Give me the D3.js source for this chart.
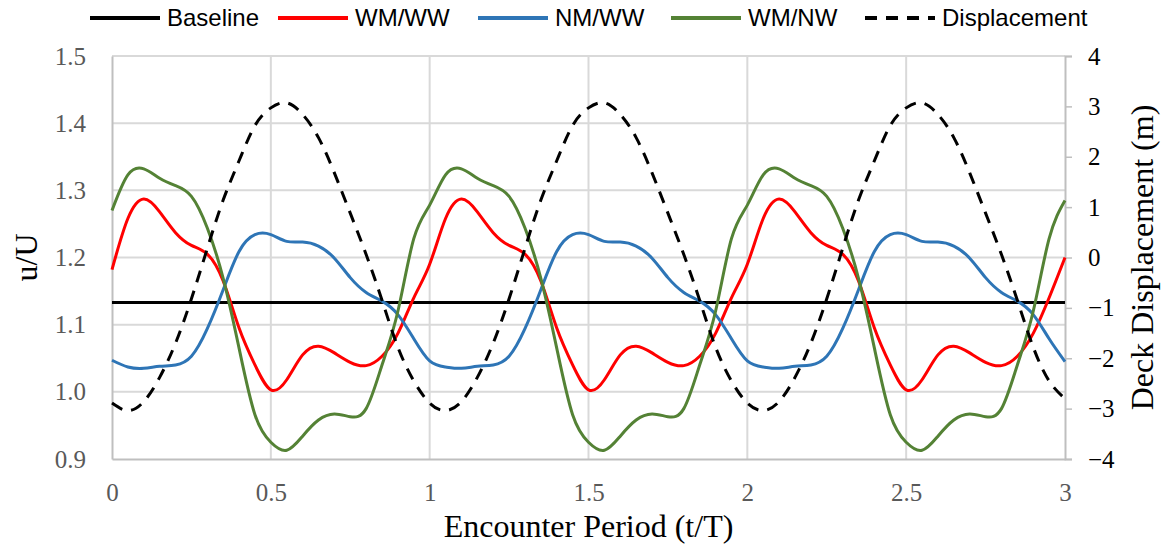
<!DOCTYPE html>
<html>
<head>
<meta charset="utf-8">
<script src="https://cdn.jsdelivr.net/npm/d3@7/dist/d3.min.js"></script>
<style>
  html, body { margin: 0; padding: 0; background: #fff; }
  svg { display: block; }
  .serif { font-family: "Liberation Serif", "Times New Roman", serif; }
  .legend text { font-family: "Liberation Sans Narrow", "Liberation Sans", Arial, sans-serif; }
</style>
</head>
<body>
<svg id="chart" width="1164" height="550"></svg>
<script>
// Encounter period (t/T), sampled every 0.05
const periods = d3.range(0, 61).map(i => +(i * 0.05).toFixed(2));

// Flow speed ratio u/U for each case
const wmww = [
  1.182, 1.258, 1.287, 1.268, 1.237, 1.218, 1.205, 1.165, 1.095, 1.040,
  1.003, 1.018, 1.055, 1.068, 1.058, 1.044, 1.039, 1.053, 1.087, 1.140,
  1.190, 1.258, 1.287, 1.268, 1.237, 1.218, 1.205, 1.165, 1.095, 1.040,
  1.003, 1.018, 1.055, 1.068, 1.058, 1.044, 1.039, 1.053, 1.087, 1.140,
  1.190, 1.258, 1.287, 1.268, 1.237, 1.218, 1.205, 1.165, 1.095, 1.040,
  1.003, 1.018, 1.055, 1.068, 1.058, 1.044, 1.039, 1.053, 1.087, 1.140,
  1.200
];
const nmww = [
  1.047, 1.037, 1.035, 1.038, 1.040, 1.053, 1.094, 1.152, 1.209, 1.234,
  1.234, 1.224, 1.223, 1.217, 1.199, 1.170, 1.148, 1.135, 1.115, 1.079,
  1.046, 1.037, 1.035, 1.038, 1.040, 1.053, 1.094, 1.152, 1.209, 1.234,
  1.234, 1.224, 1.223, 1.217, 1.199, 1.170, 1.148, 1.135, 1.115, 1.079,
  1.046, 1.037, 1.035, 1.038, 1.040, 1.053, 1.094, 1.152, 1.209, 1.234,
  1.234, 1.224, 1.223, 1.217, 1.199, 1.170, 1.148, 1.135, 1.115, 1.079,
  1.045
];
const wmnw = [
  1.270, 1.323, 1.332, 1.318, 1.307, 1.291, 1.244, 1.169, 1.065, 0.966,
  0.925, 0.913, 0.934, 0.958, 0.967, 0.963, 0.975, 1.040, 1.120, 1.228,
  1.278, 1.323, 1.332, 1.318, 1.307, 1.291, 1.244, 1.169, 1.065, 0.966,
  0.925, 0.913, 0.934, 0.958, 0.967, 0.963, 0.975, 1.040, 1.120, 1.228,
  1.278, 1.323, 1.332, 1.318, 1.307, 1.291, 1.244, 1.169, 1.065, 0.966,
  0.925, 0.913, 0.934, 0.958, 0.967, 0.963, 0.975, 1.040, 1.120, 1.228,
  1.285
];
// Constant reference level of u/U
const baselineT = [0, 3];
const baseline = [1.133, 1.133];

// Deck displacement (m), right axis
const displacement = [
  -2.89, -3.04, -2.86, -2.38, -1.70, -0.82, 0.18, 1.14, 1.92, 2.62,
  2.97, 3.07, 2.84, 2.38, 1.68, 0.88, 0.06, -0.85, -1.78, -2.45,
  -2.89, -3.04, -2.86, -2.38, -1.70, -0.82, 0.18, 1.14, 1.92, 2.62,
  2.97, 3.07, 2.84, 2.38, 1.68, 0.88, 0.06, -0.85, -1.78, -2.45,
  -2.89, -3.04, -2.86, -2.38, -1.70, -0.82, 0.18, 1.14, 1.92, 2.62,
  2.97, 3.07, 2.84, 2.38, 1.68, 0.88, 0.06, -0.85, -1.78, -2.45,
  -2.80
];

// Tick labels
const xTicks = [0, 0.5, 1, 1.5, 2, 2.5, 3];
const yTicks = [0.9, 1.0, 1.1, 1.2, 1.3, 1.4, 1.5];
const y2Ticks = [-4, -3, -2, -1, 0, 1, 2, 3, 4];

const svg = d3.select("#chart");
const plotLeft = 112, plotRight = 1065, plotTop = 56, plotBottom = 459;

const x = d3.scaleLinear().domain([0, 3]).range([plotLeft, plotRight]);
const y = d3.scaleLinear().domain([0.9, 1.5]).range([plotBottom, plotTop]);
const y2 = d3.scaleLinear().domain([-4, 4]).range([plotBottom, plotTop]);

// Gridlines
const grid = svg.append("g").attr("stroke", "#d9d9d9").attr("stroke-width", 2);
grid.selectAll(".h").data(yTicks.slice(1)).join("line").attr("class", "h")
  .attr("x1", plotLeft).attr("x2", plotRight)
  .attr("y1", d => y(d)).attr("y2", d => y(d));
grid.selectAll(".v").data(xTicks.slice(1, -1)).join("line").attr("class", "v")
  .attr("y1", plotTop).attr("y2", plotBottom)
  .attr("x1", d => x(d)).attr("x2", d => x(d));

// Axes
const axisColor = "#bfbfbf";
const gx = svg.append("g").attr("transform", `translate(0,${plotBottom})`)
  .call(d3.axisBottom(x).tickValues(xTicks).tickSize(0).tickPadding(24).tickFormat(d3.format("")));
const gy = svg.append("g").attr("transform", `translate(${plotLeft},0)`)
  .call(d3.axisLeft(y).tickValues(yTicks).tickSize(0).tickPadding(26).tickFormat(d3.format(".1f")));
const gy2 = svg.append("g").attr("transform", `translate(${plotRight},0)`)
  .call(d3.axisRight(y2).tickValues(y2Ticks).tickSize(7).tickPadding(16).tickFormat(d3.format("d")));

[gx, gy, gy2].forEach(g => {
  g.select(".domain").attr("stroke", axisColor).attr("stroke-width", 2);
  g.selectAll(".tick line").attr("stroke", axisColor).attr("stroke-width", 1.5);
  g.selectAll("text").attr("class", "serif").attr("font-size", 25);
});
gx.selectAll("text").attr("fill", "#595959");
gy.selectAll("text").attr("fill", "#595959");
gy2.selectAll("text").attr("fill", "#000");

// Series (smoothed lines)
const line = d3.line().curve(d3.curveNatural);
const toPts = (vals, sc, ts = periods) => vals.map((v, i) => [x(ts[i]), sc(v)]);

const series = [
  { name: "Baseline", pts: toPts(baseline, y, baselineT), color: "#000000", dash: null },
  { name: "WM/WW", pts: toPts(wmww, y), color: "#ff0000", dash: null },
  { name: "NM/WW", pts: toPts(nmww, y), color: "#2e75b6", dash: null },
  { name: "WM/NW", pts: toPts(wmnw, y), color: "#548235", dash: null },
  { name: "Displacement", pts: toPts(displacement, y2), color: "#000000", dash: "12,9" }
];

svg.append("g").selectAll("path").data(series).join("path")
  .attr("d", d => line(d.pts))
  .attr("fill", "none")
  .attr("stroke", d => d.color)
  .attr("stroke-width", 3)
  .attr("stroke-dasharray", d => d.dash);

// Legend
const legendX = [90, 278, 478, 671, 865];
const legend = svg.append("g").attr("class", "legend");
series.forEach((s, i) => {
  const g = legend.append("g").attr("transform", `translate(${legendX[i]},18)`);
  g.append("line").attr("x1", 0).attr("x2", 70).attr("y1", 0).attr("y2", 0)
    .attr("stroke", s.color).attr("stroke-width", 4).attr("stroke-dasharray", s.dash);
  g.append("text").attr("x", 77).attr("y", 0).attr("dy", "0.35em")
    .attr("font-size", 24).attr("fill", "#000").text(s.name);
});

// Axis titles
svg.append("text").attr("class", "serif")
  .attr("x", (plotLeft + plotRight) / 2).attr("y", 537)
  .attr("text-anchor", "middle").attr("font-size", 32).attr("fill", "#000")
  .text("Encounter Period (t/T)");
svg.append("text").attr("class", "serif")
  .attr("transform", `translate(37,${(plotTop + plotBottom) / 2}) rotate(-90)`)
  .attr("text-anchor", "middle").attr("font-size", 32).attr("fill", "#000")
  .text("u/U");
svg.append("text").attr("class", "serif")
  .attr("transform", `translate(1153,${(plotTop + plotBottom) / 2}) rotate(-90)`)
  .attr("text-anchor", "middle").attr("font-size", 32).attr("fill", "#000")
  .text("Deck Displacement (m)");
</script>
</body>
</html>
